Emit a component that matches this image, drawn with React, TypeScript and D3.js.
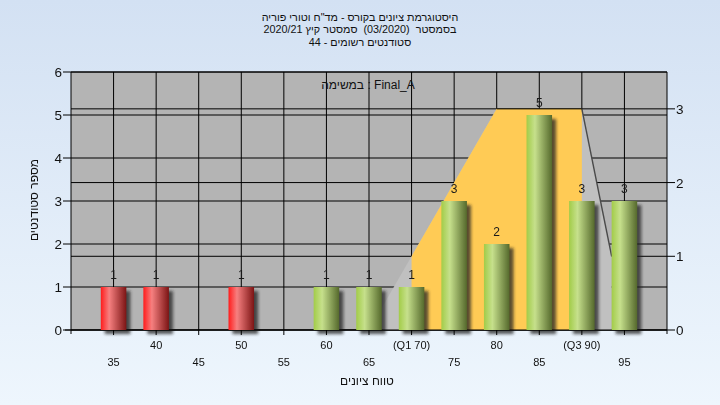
import React from "react";
import * as d3 from "d3";

// ---- data ----
const grades = [35, 40, 50, 60, 65, 70, 75, 80, 85, 90, 95];
const counts = [1, 1, 1, 1, 1, 1, 3, 2, 5, 3, 3];
const passGrade = 55;
const xTickValues = [35, 40, 45, 50, 55, 60, 65, 70, 75, 80, 85, 90, 95];
const xTickLabels = ["35", "40", "45", "50", "55", "60", "65", "(Q1 70)", "75", "80", "85", "(Q3 90)", "95"];
const leftTicks = [0, 1, 2, 3, 4, 5, 6];
const rightTicks = [0, 1, 2, 3];
const areaX = [65, 70, 80, 90, 93.5];
const areaY = [0, 1, 3, 3, 1];
const q1 = 70;
const q3 = 90;
const titleLines = [
  "היסטוגרמת ציונים בקורס - מד\"ח וטורי פוריה",
  "בסמסטר  (03/2020)  סמסטר קיץ 2020/21",
  "סטודנטים רשומים - 44",
];
const taskLabel = "במשימה : Final_A";
const xTitle = "טווח ציונים";
const yTitle = "מספר סטודנטים";

const W = 720;
const H = 405;
const L = 71, R = 667, T = 72, B = 330;
const fontStack = "'Liberation Sans', Arial, sans-serif";

export default function App() {
  const x = d3.scaleLinear().domain([30, 100]).range([L, R]);
  const yL = d3.scaleLinear().domain([0, 6]).range([B, T]);
  const yR = d3.scaleLinear().domain([0, 3.5]).range([B, T]);
  const barW = x(33) - x(30);

  const pts = areaX.map((v, i) => [v, areaY[i]] as [number, number]);
  const areaGen = d3.area<[number, number]>()
    .x((d) => x(d[0]))
    .y0(yR(0))
    .y1((d) => yR(d[1]));
  const areaPath = areaGen(pts) || "";
  const lineGen = d3.line<[number, number]>().x((d) => x(d[0])).y((d) => yR(d[1]));
  const rightEdge = lineGen(pts.slice(3)) || "";
  const topEdge = lineGen(pts.slice(2, 4)) || "";

  return (
    <svg width={W} height={H} style={{ position: "absolute", left: 0, top: 0 }} fontFamily={fontStack}>
      <defs>
        <linearGradient id="bg" x1="0" y1="0" x2="0" y2="1">
          <stop offset="0" stopColor="#d3e1f3" />
          <stop offset="1" stopColor="#eef6fd" />
        </linearGradient>
        <linearGradient id="red" x1="0" y1="0" x2="1" y2="0">
          <stop offset="0" stopColor="#ff1c1c" />
          <stop offset="0.33" stopColor="#f68080" />
          <stop offset="1" stopColor="#7c1414" />
        </linearGradient>
        <linearGradient id="green" x1="0" y1="0" x2="1" y2="0">
          <stop offset="0" stopColor="#a2cc48" />
          <stop offset="0.33" stopColor="#c6e08c" />
          <stop offset="1" stopColor="#55692c" />
        </linearGradient>
        <filter id="blur" x="-50%" y="-50%" width="200%" height="200%">
          <feGaussianBlur stdDeviation="1.6" />
        </filter>
        <clipPath id="qclip">
          <rect x={x(q1)} y={T} width={x(q3) - x(q1)} height={B - T} />
        </clipPath>
      </defs>
      <rect x={0} y={0} width={W} height={H} fill="url(#bg)" />

      {/* titles */}
      {titleLines.map((t, i) => (
        <text key={i} x={360} y={20.5 + i * 12.5} fontSize={10.8} textAnchor="middle" fill="#111"
          style={{ whiteSpace: "pre" }}>
          {t}
        </text>
      ))}

      {/* plot background */}
      <rect x={L} y={T} width={R - L} height={B - T} fill="#b4b4b4" />

      {/* gridlines */}
      {xTickValues.map((v) => (
        <line key={"gx" + v} x1={x(v)} x2={x(v)} y1={T} y2={B} stroke="#000" strokeWidth={1} />
      ))}
      {leftTicks.map((v) => (
        <line key={"gy" + v} x1={L} x2={R} y1={yL(v)} y2={yL(v)} stroke="#000" strokeWidth={1} />
      ))}
      {rightTicks.map((v) => (
        <line key={"gr" + v} x1={L} x2={R} y1={yR(v)} y2={yR(v)} stroke="#000" strokeWidth={1} />
      ))}

      {/* quartile area */}
      <path d={areaPath} fill="#c0c0c0" />
      <path d={areaPath} fill="#ffcb55" clipPath="url(#qclip)" />
      <path d={rightEdge} fill="none" stroke="#4a4a4a" strokeWidth={1.4} />
      <path d={topEdge} fill="none" stroke="#000" strokeWidth={1} />

      <text x={368} y={89} fontSize={12} textAnchor="middle" fill="#111">{taskLabel}</text>

      {/* bar shadows */}
      <g filter="url(#blur)">
        {grades.map((g, i) => (
          <rect key={"s" + g} x={x(g) - barW / 2 + 4} y={yL(counts[i]) + 4} width={barW} height={B - yL(counts[i])}
            fill="#202020" opacity={0.75} />
        ))}
      </g>

      {/* axes lines */}
      <line x1={L} x2={L} y1={T} y2={B + 4} stroke="#000" />
      <line x1={R} x2={R} y1={T} y2={B + 4} stroke="#000" />
      <line x1={L} x2={R} y1={T} y2={T} stroke="#000" />
      <line x1={L - 6} x2={R} y1={B} y2={B} stroke="#000" />

      {/* bars */}
      {grades.map((g, i) => (
        <rect key={"b" + g} x={x(g) - barW / 2} y={yL(counts[i])} width={barW} height={B - yL(counts[i])}
          fill={g < passGrade ? "url(#red)" : "url(#green)"} />
      ))}
      {grades.map((g, i) => (
        <text key={"v" + g} x={x(g)} y={yL(counts[i]) - 8} fontSize={12} textAnchor="middle" fill="#1a1a1a">
          {counts[i]}
        </text>
      ))}

      {/* left axis */}
      {leftTicks.map((v) => (
        <g key={"ly" + v}>
          <line x1={L - 8} x2={L} y1={yL(v)} y2={yL(v)} stroke="#000" />
          <text x={L - 9} y={yL(v) + 5} fontSize={13.5} textAnchor="end" fill="#111">{v}</text>
        </g>
      ))}
      {/* right axis */}
      {rightTicks.map((v) => (
        <g key={"ry" + v}>
          <line x1={R} x2={R + 8} y1={yR(v)} y2={yR(v)} stroke="#000" />
          <text x={R + 9} y={yR(v) + 5} fontSize={13.5} textAnchor="start" fill="#111">{v}</text>
        </g>
      ))}
      {/* x axis */}
      {xTickValues.map((v, i) => (
        <g key={"xt" + v}>
          <line x1={x(v)} x2={x(v)} y1={B} y2={B + 5} stroke="#000" />
          <text x={x(v)} y={i % 2 === 1 ? 349 : 366} fontSize={11} textAnchor="middle" fill="#111">
            {xTickLabels[i]}
          </text>
        </g>
      ))}

      <text x={367} y={385} fontSize={12} textAnchor="middle" fill="#111">{xTitle}</text>
      <text transform={`translate(38,200) rotate(-90)`} fontSize={12} textAnchor="middle" fill="#111">{yTitle}</text>
    </svg>
  );
}
